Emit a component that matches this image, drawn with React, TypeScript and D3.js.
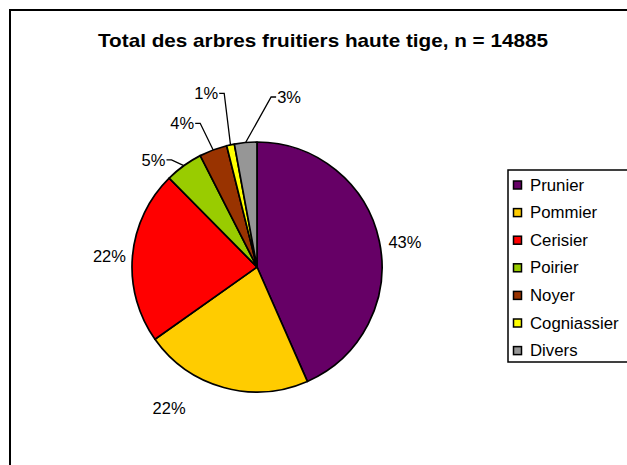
import React from "react";
import * as d3 from "d3";

const categories = ["Prunier", "Pommier", "Cerisier", "Poirier", "Noyer", "Cogniassier", "Divers"];
const values = [43.4, 21.8, 22.4, 4.9, 3.6, 1.0, 2.9];
const labels = ["43%", "22%", "22%", "5%", "4%", "1%", "3%"];
const colors = ["#660066", "#FFCC00", "#FF0000", "#99CC00", "#993300", "#FFFF00", "#969696"];
const title = "Total des arbres fruitiers haute tige, n = 14885";

// label layout: angle (deg, clockwise from top), radius, leader line?
const labelLayout = [
  { a: 80.4, r: 150, leader: false },
  { a: 212, r: 166, leader: false },
  { a: 274.2, r: 148, leader: false },
  { a: 316, r: 149, leader: true },
  { a: 332.5, r: 162, leader: true },
  { a: 343.7, r: 181, leader: true },
  { a: 10.7, r: 173, leader: true },
];

const W = 627;
const H = 465;
const cx = 257;
const cy = 267;
const R = 125;

export default function App() {
  const pie = d3.pie<number>().sort(null).value((d) => d)(values);
  const arc = d3.arc<d3.PieArcDatum<number>>().innerRadius(0).outerRadius(R);
  const polar = (deg: number, r: number) => {
    const t = (deg * Math.PI) / 180;
    return [Math.sin(t) * r, -Math.cos(t) * r];
  };
  return (
    <svg
      width={W}
      height={H}
      style={{ position: "absolute", left: 0, top: 0, background: "#fff" }}
      fontFamily="'Liberation Sans', Arial, sans-serif"
    >
      <rect x={10} y={10} width={W + 20} height={H + 20} fill="#fff" stroke="#000" strokeWidth={2} />
      <text x={323} y={47} textAnchor="middle" fontWeight="bold" fontSize={18.5} textLength={450} lengthAdjust="spacingAndGlyphs">
        {title}
      </text>
      <g transform={`translate(${cx},${cy})`}>
        {pie.map((p, i) => (
          <path key={categories[i]} d={arc(p) as string} fill={colors[i]} stroke="#000" strokeWidth={1.7} strokeLinejoin="round" />
        ))}
        {pie.map((p, i) => {
          const L = labelLayout[i];
          const [lx, ly] = polar(L.a, L.r);
          const mid = (((p.startAngle + p.endAngle) / 2) * 180) / Math.PI;
          const [ax, ay] = polar(mid, R);
          const right = lx > ax;
          const halfW = labels[i].length * 6;
          const ex = right ? lx - halfW - 6 : lx + halfW + 6;
          return (
            <g key={"l" + i}>
              {L.leader && (
                <polyline
                  points={`${right ? lx - halfW - 1 : lx + halfW + 1},${ly} ${ex},${ly} ${ax},${ay}`}
                  fill="none"
                  stroke="#000"
                  strokeWidth={1.3}
                />
              )}
              <text x={lx} y={ly} textAnchor="middle" dominantBaseline="central" fontSize={16.5} fill="#000">
                {labels[i]}
              </text>
            </g>
          );
        })}
      </g>
      <g>
        <rect x={508} y={170} width={140} height={192} fill="#fff" stroke="#000" strokeWidth={1.5} />
        {categories.map((c, i) => {
          const y = 185 + i * 27.6;
          return (
            <g key={c}>
              <rect x={513.5} y={y - 4} width={8} height={8} fill={colors[i]} stroke="#000" strokeWidth={1.5} />
              <text x={530} y={y} dominantBaseline="central" fontSize={16.8}>
                {c}
              </text>
            </g>
          );
        })}
      </g>
    </svg>
  );
}
